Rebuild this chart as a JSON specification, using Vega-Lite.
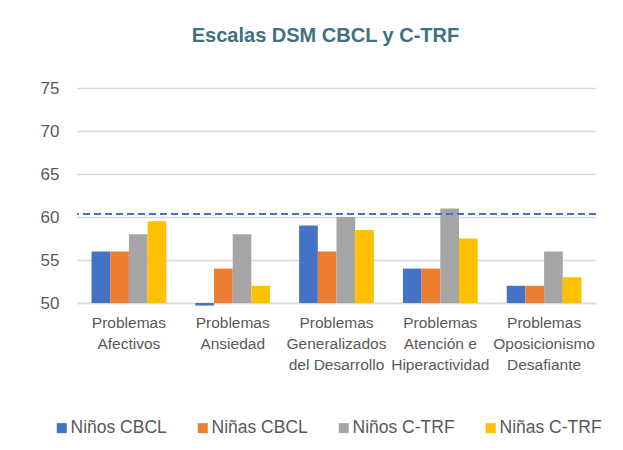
{
  "$schema": "https://vega.github.io/schema/vega-lite/v6.json",
  "width": 519,
  "height": 215,
  "autosize": {"type": "none"},
  "padding": {"left": 77, "top": 88, "right": 27, "bottom": 147},
  "background": "white",
  "config": {"view": {"stroke": null}, "font": "Liberation Sans"},
  "title": {
    "text": "Escalas DSM CBCL y C-TRF",
    "fontSize": 20,
    "fontWeight": "bold",
    "color": "#41707F",
    "anchor": "middle",
    "dx": -11,
    "offset": 33
  },
  "datasets": {
    "barras": [
      {"categoria": "Problemas Afectivos", "serie": "Niños CBCL", "valor": 56},
      {"categoria": "Problemas Afectivos", "serie": "Niñas CBCL", "valor": 56},
      {"categoria": "Problemas Afectivos", "serie": "Niños C-TRF", "valor": 58},
      {"categoria": "Problemas Afectivos", "serie": "Niñas C-TRF", "valor": 59.5},
      {"categoria": "Problemas Ansiedad", "serie": "Niños CBCL", "valor": 49.7},
      {"categoria": "Problemas Ansiedad", "serie": "Niñas CBCL", "valor": 54},
      {"categoria": "Problemas Ansiedad", "serie": "Niños C-TRF", "valor": 58},
      {"categoria": "Problemas Ansiedad", "serie": "Niñas C-TRF", "valor": 52},
      {"categoria": "Problemas Generalizados del Desarrollo", "serie": "Niños CBCL", "valor": 59},
      {"categoria": "Problemas Generalizados del Desarrollo", "serie": "Niñas CBCL", "valor": 56},
      {"categoria": "Problemas Generalizados del Desarrollo", "serie": "Niños C-TRF", "valor": 60},
      {"categoria": "Problemas Generalizados del Desarrollo", "serie": "Niñas C-TRF", "valor": 58.5},
      {"categoria": "Problemas Atención e Hiperactividad", "serie": "Niños CBCL", "valor": 54},
      {"categoria": "Problemas Atención e Hiperactividad", "serie": "Niñas CBCL", "valor": 54},
      {"categoria": "Problemas Atención e Hiperactividad", "serie": "Niños C-TRF", "valor": 61},
      {"categoria": "Problemas Atención e Hiperactividad", "serie": "Niñas C-TRF", "valor": 57.5},
      {"categoria": "Problemas Oposicionismo Desafiante", "serie": "Niños CBCL", "valor": 52},
      {"categoria": "Problemas Oposicionismo Desafiante", "serie": "Niñas CBCL", "valor": 52},
      {"categoria": "Problemas Oposicionismo Desafiante", "serie": "Niños C-TRF", "valor": 56},
      {"categoria": "Problemas Oposicionismo Desafiante", "serie": "Niñas C-TRF", "valor": 53}
    ],
    "umbral": [{"valor": 60.35}]
  },
  "layer": [
    {
      "data": {"name": "barras"},
      "mark": {"type": "bar", "clip": false},
      "encoding": {
        "x": {
          "field": "categoria",
          "type": "nominal",
          "sort": null,
          "scale": {"paddingInner": 0.28, "paddingOuter": 0.14},
          "axis": {
            "title": null,
            "labelAngle": 0,
            "ticks": false,
            "domain": true,
            "domainColor": "#D9D9D9",
            "domainWidth": 1.3,
            "labelColor": "#595959",
            "labelFontSize": 15.5,
            "labelLineHeight": 21,
            "labelPadding": 12,
            "labelBaseline": "top",
            "labelBound": false,
            "labelOverlap": false,
            "labelExpr": "datum.value == 'Problemas Afectivos' ? ['Problemas','Afectivos'] : datum.value == 'Problemas Ansiedad' ? ['Problemas','Ansiedad'] : datum.value == 'Problemas Generalizados del Desarrollo' ? ['Problemas','Generalizados','del Desarrollo'] : datum.value == 'Problemas Atención e Hiperactividad' ? ['Problemas','Atención e','Hiperactividad'] : ['Problemas','Oposicionismo','Desafiante']"
          }
        },
        "xOffset": {
          "field": "serie",
          "type": "nominal",
          "sort": ["Niños CBCL", "Niñas CBCL", "Niños C-TRF", "Niñas C-TRF"],
          "scale": {"paddingInner": 0, "paddingOuter": 0}
        },
        "y": {
          "field": "valor",
          "type": "quantitative",
          "scale": {"domain": [50, 75], "zero": false, "nice": false},
          "axis": {
            "title": null,
            "values": [50, 55, 60, 65, 70, 75],
            "domain": false,
            "ticks": false,
            "grid": true,
            "gridColor": "#D9D9D9",
            "gridWidth": 1.3,
            "labelColor": "#595959",
            "labelFontSize": 17,
            "labelPadding": 18
          }
        },
        "y2": {"datum": 50},
        "color": {
          "field": "serie",
          "type": "nominal",
          "scale": {
            "domain": ["Niños CBCL", "Niñas CBCL", "Niños C-TRF", "Niñas C-TRF"],
            "range": ["#4472C4", "#ED7D31", "#A5A5A5", "#FFC000"]
          },
          "legend": {
            "title": null,
            "orient": "none",
            "direction": "horizontal",
            "columns": 4,
            "gridAlign": "each",
            "legendX": -24,
            "legendY": 331,
            "padding": 0,
            "columnPadding": 27,
            "symbolType": "square",
            "symbolSize": 100,
            "symbolStrokeWidth": 0,
            "labelOffset": 0,
            "labelFontSize": 17.5,
            "labelColor": "#595959"
          }
        }
      }
    },
    {
      "data": {"name": "umbral"},
      "mark": {"type": "rule", "strokeDash": [7, 4], "strokeWidth": 2, "color": "#4472C4"},
      "encoding": {"y": {"field": "valor", "type": "quantitative"}}
    }
  ]
}
